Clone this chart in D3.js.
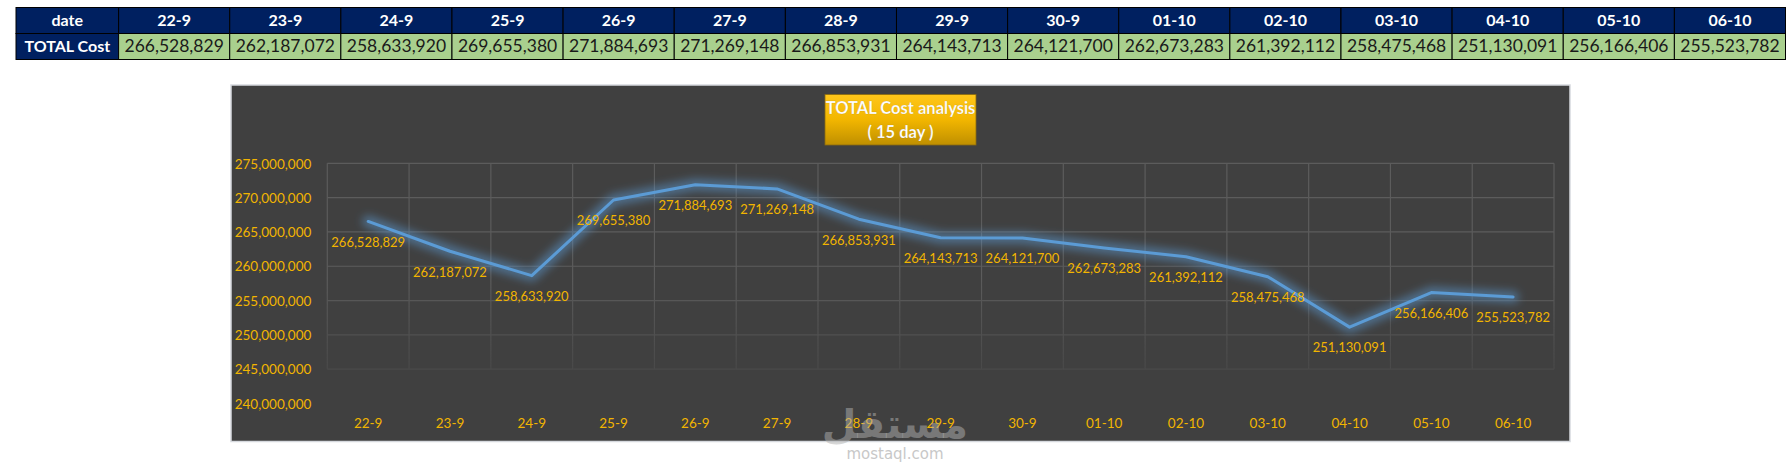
<!DOCTYPE html>
<html><head><meta charset="utf-8">
<script src="https://cdn.jsdelivr.net/npm/d3@7"></script>
<style>body{margin:0;background:#fff;} svg{display:block}</style>
</head><body><svg id="c" width="1792" height="472"></svg>
<script>
const dates = ["22-9","23-9","24-9","25-9","26-9","27-9","28-9","29-9","30-9","01-10","02-10","03-10","04-10","05-10","06-10"];
const totalCost = [266528829,262187072,258633920,269655380,271884693,271269148,266853931,264143713,264121700,262673283,261392112,258475468,251130091,256166406,255523782];
const yTicks = [240000000,245000000,250000000,255000000,260000000,265000000,270000000,275000000];
const gridTicks = [245000000,250000000,255000000,260000000,265000000,270000000,275000000];
const rowLabels = ["date","TOTAL Cost"];
const titleLines = ["TOTAL Cost analysis","( 15 day )"];

const FONT = "Lato, 'Open Sans', sans-serif";
const GOLD = "#f2b500";
const fmt = d3.format(",");
const svg = d3.select("#c");
const defs = svg.append("defs");

// ---------- table ----------
const tX0 = 16, tX1 = 118.6, tX2 = 1785.5, tY0 = 7.5, rowH = 26;
const col = d3.scaleBand().domain(dates).range([tX1, tX2]);
const tbl = svg.append("g");
rowLabels.forEach((lab, i) => {
  tbl.append("rect").attr("x", tX0).attr("y", tY0 + i*rowH).attr("width", tX1 - tX0).attr("height", rowH)
    .attr("fill", "#002060").attr("stroke", "#000").attr("stroke-width", 1);
  tbl.append("text").attr("x", (tX0 + tX1)/2).attr("y", tY0 + i*rowH + rowH/2 + 1)
    .attr("text-anchor", "middle").attr("dominant-baseline", "middle")
    .attr("font-family", FONT).attr("font-weight", 700).attr("font-size", 16).attr("fill", "#fff").text(lab);
});
dates.forEach((d, i) => {
  tbl.append("rect").attr("x", col(d)).attr("y", tY0).attr("width", col.bandwidth()).attr("height", rowH)
    .attr("fill", "#002060").attr("stroke", "#000").attr("stroke-width", 1);
  tbl.append("text").attr("x", col(d) + col.bandwidth()/2).attr("y", tY0 + rowH/2 + 1)
    .attr("text-anchor", "middle").attr("dominant-baseline", "middle")
    .attr("font-family", FONT).attr("font-weight", 700).attr("font-size", 16).attr("fill", "#fff").text(d);
  tbl.append("rect").attr("x", col(d)).attr("y", tY0 + rowH).attr("width", col.bandwidth()).attr("height", rowH)
    .attr("fill", "#a9d08e").attr("stroke", "#000").attr("stroke-width", 1);
  tbl.append("text").attr("x", col(d) + col.bandwidth()/2).attr("y", tY0 + rowH*1.5 + 1)
    .attr("text-anchor", "middle").attr("dominant-baseline", "middle")
    .attr("font-family", FONT).attr("font-size", 17.5).attr("fill", "#1a1a1a").text(fmt(totalCost[i]));
});

// ---------- chart ----------
const box = {x0: 231, y0: 85, x1: 1570, y1: 441.5};
svg.append("rect").attr("x", box.x0).attr("y", box.y0).attr("width", box.x1 - box.x0).attr("height", box.y1 - box.y0)
  .attr("fill", "#404040").attr("stroke", "#d6d9de").attr("stroke-width", 1.5);

const x = d3.scaleBand().domain(dates).range([327.3, 1554]);
const cx = d => x(d) + x.bandwidth()/2;
const y = d3.scaleLinear().domain([240000000, 275000000]).range([403.5, 163.3]);

const grad = defs.append("linearGradient").attr("id", "gfade").attr("gradientUnits", "userSpaceOnUse")
  .attr("x1", 0).attr("y1", y(275000000)).attr("x2", 0).attr("y2", y(245000000));
grad.append("stop").attr("offset", 0).attr("stop-color", "#fff");
grad.append("stop").attr("offset", 0.55).attr("stop-color", "#fff");
grad.append("stop").attr("offset", 1).attr("stop-color", "#555");
defs.append("mask").attr("id", "gmask").append("rect")
  .attr("x", 0).attr("y", 0).attr("width", 1792).attr("height", 472).attr("fill", "url(#gfade)");

const grid = svg.append("g").attr("mask", "url(#gmask)").attr("stroke", "#5c5c5c").attr("stroke-width", 1.2);
grid.selectAll("line.h").data(gridTicks).join("line").attr("class", "h")
  .attr("x1", x.range()[0]).attr("x2", x.range()[1]).attr("y1", d => y(d)).attr("y2", d => y(d));
const vb = dates.map(d => x(d)).concat([x.range()[1]]);
grid.selectAll("line.v").data(vb).join("line").attr("class", "v")
  .attr("x1", d => d).attr("x2", d => d).attr("y1", y(275000000)).attr("y2", y(245000000));

const yAx = svg.append("g").attr("transform", `translate(${x.range()[0]},0)`)
  .call(d3.axisLeft(y).tickValues(yTicks).tickFormat(fmt).tickSize(0).tickPadding(16));
yAx.select(".domain").remove();
yAx.selectAll("text").attr("font-family", FONT).attr("font-size", 13.5).attr("fill", GOLD).attr("dy", "0.35em");

const xAx = svg.append("g").attr("transform", `translate(0,${423})`)
  .call(d3.axisBottom(x).tickSize(0).tickPadding(0));
xAx.select(".domain").remove();
xAx.selectAll("text").attr("font-family", FONT).attr("font-size", 13.5).attr("fill", GOLD).attr("y", 0).attr("dy", "0.35em");

const glow = defs.append("filter").attr("id", "glow").attr("x", "-10%").attr("y", "-30%").attr("width", "120%").attr("height", "160%");
glow.append("feGaussianBlur").attr("stdDeviation", 4);
const lineGen = d3.line().x((v, i) => cx(dates[i])).y(v => y(v));
svg.append("path").datum(totalCost).attr("d", lineGen).attr("fill", "none")
  .attr("stroke", "#5b9bd5").attr("stroke-width", 12).attr("stroke-opacity", 0.5)
  .attr("stroke-linejoin", "round").attr("stroke-linecap", "round").attr("filter", "url(#glow)");
svg.append("path").datum(totalCost).attr("d", lineGen).attr("fill", "none")
  .attr("stroke", "#5b9bd5").attr("stroke-width", 3).attr("stroke-linejoin", "round").attr("stroke-linecap", "round");

svg.append("g").selectAll("text").data(totalCost).join("text")
  .attr("x", (v, i) => cx(dates[i])).attr("y", v => y(v) + 22)
  .attr("text-anchor", "middle").attr("dominant-baseline", "middle")
  .attr("font-family", FONT).attr("font-size", 13).attr("fill", GOLD).text(v => fmt(v));

const tg = defs.append("linearGradient").attr("id", "tgrad").attr("x1", 0).attr("y1", 0).attr("x2", 0).attr("y2", 1);
tg.append("stop").attr("offset", 0).attr("stop-color", "#ffc61a");
tg.append("stop").attr("offset", 0.5).attr("stop-color", "#f2b600");
tg.append("stop").attr("offset", 1).attr("stop-color", "#bf8f00");
const tb = {x0: 825, y0: 94.5, x1: 976, y1: 145};
svg.append("rect").attr("x", tb.x0).attr("y", tb.y0).attr("width", tb.x1 - tb.x0).attr("height", tb.y1 - tb.y0)
  .attr("fill", "url(#tgrad)").attr("stroke", "#8a6a10").attr("stroke-width", 0.8);
svg.append("g").selectAll("text").data(titleLines).join("text")
  .attr("x", (tb.x0 + tb.x1)/2).attr("y", (d, i) => 110 + i*23.5)
  .attr("text-anchor", "middle").attr("dominant-baseline", "middle")
  .attr("font-family", FONT).attr("font-weight", 700).attr("font-size", 16.5).attr("fill", "#fff")
  .attr("stroke", "rgba(120,90,0,0.25)").attr("stroke-width", 0.5).text(d => d);

svg.append("text").attr("x", 895).attr("y", 438).attr("text-anchor", "middle")
  .attr("font-family", "'DejaVu Sans', sans-serif").attr("font-weight", 700).attr("font-size", 40)
  .attr("fill", "#b0b0b0").attr("fill-opacity", 0.5).text("مستقل");
svg.append("text").attr("x", 895).attr("y", 459).attr("text-anchor", "middle")
  .attr("font-family", "'DejaVu Sans', sans-serif").attr("font-size", 15)
  .attr("fill", "#c8c8c8").text("mostaql.com");
</script></body></html>
